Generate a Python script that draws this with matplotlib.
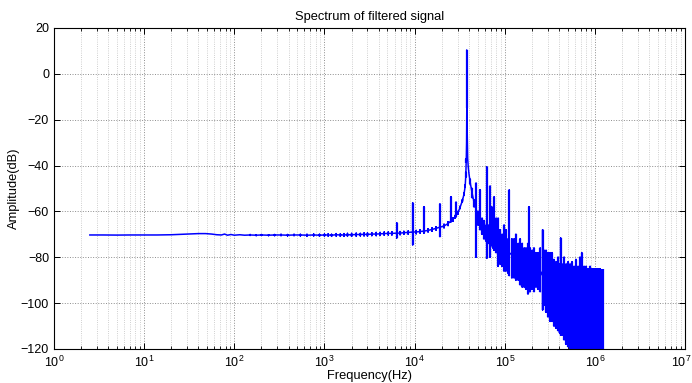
import numpy as np
import matplotlib
matplotlib.use('Agg')
import matplotlib.pyplot as plt
import matplotlib.transforms as mtransforms
from matplotlib.ticker import FixedLocator, LogLocator

plt.rcParams['font.family'] = ['Liberation Sans', 'DejaVu Sans']
plt.rcParams['mathtext.fontset'] = 'custom'
plt.rcParams['mathtext.rm'] = 'Liberation Sans'

# spectrum: for every frequency the main trace level
# and the highest / lowest level drawn there (dense FFT bins merge into a band)
freq = [2.5, 3.5, 5, 7, 10, 14, 20, 26, 32, 40, 48, 56, 64, 72, 78, 84,
        92, 100, 115, 130, 150, 175, 200, 240, 280, 330, 390, 460, 540,
        640, 760, 880, 1000, 1100, 1200, 1350, 1500, 1650, 1800, 2000,
        2250, 2500, 2750, 3000, 3350, 3750, 4150, 4600, 5100, 5600, 6340,
        6900, 7600, 8500, 9530, 10400, 11500, 12700, 14100, 15600, 17300,
        19100, 21200, 23500, 25300, 26700, 28000, 28800, 30300, 31900,
        33900, 35300, 36400, 37000, 37400, 37700, 37900, 38100, 38400,
        38800, 39400, 40200, 41200, 43400, 45600, 48000, 50600, 53200,
        56000, 58900, 62100, 63100, 65300, 68700, 71600, 74000, 76100,
        80200, 84300, 88700, 93300, 98200, 103000, 109000, 112000, 120000,
        127000, 133000, 141000, 148000, 156000, 164000, 172000, 181000,
        186000, 191000, 201000, 211000, 222000, 234000, 247000, 263000,
        273000, 287000, 302000, 318000, 335000, 352000, 371000, 390000,
        405000, 417000, 432000, 455000, 479000, 504000, 530000, 558000,
        587000, 618000, 650000, 684000, 714000, 758000, 798000, 840000,
        884000, 930000, 979000, 1030000, 1084000, 1141000, 1200000, 1240000]

amp_mid = [-70.3, -70.3, -70.35, -70.3, -70.3, -70.3, -70.2, -70.0, -69.8,
           -69.7, -69.7, -69.9, -70.2, -70.3, -69.9, -70.4, -70.1, -70.4,
           -70.2, -70.4, -70.3, -70.4, -70.3, -70.4, -70.3, -70.3, -70.4,
           -70.3, -70.3, -70.4, -70.3, -70.4, -70.3, -70.3, -70.4, -70.2,
           -70.3, -70.3, -70.2, -70.2, -70.1, -70.1, -70.0, -70.1, -69.9,
           -69.9, -69.8, -69.7, -69.6, -69.6, -69.5, -69.5, -69.3, -69.2,
           -69.0, -69.0, -68.8, -68.6, -68.3, -67.9, -67.4, -66.9, -66.4,
           -65.3, -64.2, -63.5, -62.4, -61.8, -60.6, -58.3, -55.3, -52.5,
           -49.0, -44.0, -38.0, -30.0, -15.0, -20.0, -30.0, -37.0, -41.0,
           -44.0, -47.0, -52.0, -56.0, -59.0, -62.0, -64.0, -66.0, -67.0,
           -69.0, -69.0, -70.0, -71.0, -72.0, -72.5, -73.0, -74.0, -75.0,
           -75.5, -76.0, -77.0, -77.5, -78.0, -78.0, -79.0, -79.5, -80.0,
           -80.5, -81.0, -82.0, -82.0, -83.0, -83.0, -83.5, -84.0, -84.0,
           -85.0, -85.0, -86.0, -86.0, -88.0, -88.0, -90.0, -92.0, -94.0,
           -95.0, -96.0, -97.0, -98.0, -98.0, -99.0, -100.0, -100.0, -100.0,
           -100.0, -100.0, -100.0, -100.0, -100.0, -100.0, -100.0, -100.0,
           -100.0, -100.0, -100.0, -100.0, -100.0, -100.0, -100.0, -100.0,
           -100.0]

amp_hi = [-70.3, -70.3, -70.35, -70.3, -70.3, -70.3, -70.2, -70.0, -69.8,
          -69.7, -69.7, -69.9, -70.2, -70.3, -69.9, -70.4, -70.1, -70.4,
          -70.2, -70.4, -70.1, -70.2, -70.1, -70.2, -70.1, -70.0, -70.1,
          -70.0, -70.0, -70.0, -69.9, -70.0, -69.9, -69.8, -70.0, -69.7,
          -69.8, -69.7, -69.6, -69.6, -69.5, -69.6, -69.4, -69.4, -69.3,
          -69.2, -69.2, -69.0, -69.0, -68.9, -65.0, -68.8, -68.7, -68.5,
          -56.3, -68.3, -68.0, -58.0, -67.6, -67.2, -66.7, -56.8, -65.6,
          -64.5, -53.6, -62.8, -61.8, -56.0, -60.0, -57.8, -54.8, -52.0,
          -48.5, -43.0, -37.0, -30.0, 10.3, -20.0, -30.0, -37.0, -41.0,
          -44.0, -46.0, -50.0, -55.0, -47.7, -60.0, -50.6, -63.0, -64.0,
          -66.0, -40.6, -66.0, -49.0, -58.0, -67.0, -53.7, -63.0, -63.0,
          -68.0, -70.0, -66.0, -68.0, -72.0, -50.7, -72.0, -72.0, -70.0,
          -74.0, -72.0, -74.0, -76.0, -76.0, -74.0, -58.0, -76.0, -77.0,
          -76.0, -78.0, -78.0, -76.0, -68.0, -77.0, -77.0, -78.0, -78.0,
          -78.0, -81.0, -82.0, -80.0, -83.0, -71.6, -83.0, -80.0, -83.0,
          -82.0, -83.0, -82.0, -84.0, -81.0, -84.0, -80.0, -78.0, -84.0,
          -84.0, -85.0, -84.0, -85.0, -85.0, -85.0, -85.0, -85.0, -85.0,
          -85.0]

amp_lo = [-70.3, -70.3, -70.35, -70.3, -70.3, -70.3, -70.2, -70.0, -69.8,
          -69.7, -69.7, -69.9, -70.2, -70.3, -69.9, -70.4, -70.1, -70.4,
          -70.2, -70.4, -70.5, -70.6, -70.5, -70.6, -70.6, -70.6, -70.7,
          -70.6, -70.7, -70.8, -70.7, -70.8, -70.8, -70.8, -70.9, -70.8,
          -70.9, -70.9, -70.8, -70.9, -70.8, -70.7, -70.7, -70.8, -70.6,
          -70.6, -70.5, -70.4, -70.3, -70.3, -71.6, -70.2, -70.0, -70.0,
          -74.6, -69.8, -69.5, -69.5, -69.0, -68.7, -68.2, -71.0, -67.2,
          -66.2, -64.6, -64.3, -63.0, -62.4, -61.2, -58.8, -55.8, -53.0,
          -49.5, -45.0, -39.0, -30.0, -15.0, -20.0, -30.0, -37.0, -41.0,
          -44.0, -48.0, -54.0, -58.0, -80.0, -66.0, -68.0, -70.0, -72.0,
          -73.0, -80.5, -74.0, -80.0, -75.0, -76.0, -77.0, -78.0, -84.0,
          -83.0, -84.0, -86.0, -86.0, -87.0, -88.0, -89.0, -89.0, -90.0,
          -90.0, -92.0, -93.0, -93.0, -94.0, -96.0, -95.0, -95.0, -94.0,
          -95.0, -93.0, -94.0, -95.0, -103.0, -101.0, -104.0, -106.0,
          -108.0, -108.0, -110.0, -111.0, -112.0, -113.0, -114.0, -114.0,
          -116.0, -118.0, -119.0, -121.0, -124.0, -125.0, -125.0, -125.0,
          -125.0, -125.0, -125.0, -125.0, -125.0, -125.0, -125.0, -125.0,
          -125.0, -125.0, -125.0, -125.0, -125.0]

# trace: follow the main level and run up and down at every frequency
xs, ys = [], []
for f, m, h, l in zip(freq, amp_mid, amp_hi, amp_lo):
    xs += [f, f, f, f]
    ys += [m, h, l, m]

# spikes and the dense band get a slightly wider stroke so they fill in
wide = [i for i in range(len(freq)) if amp_hi[i] - amp_lo[i] >= 2]

fig = plt.figure(figsize=(6.92, 3.83), dpi=100)
ax = fig.add_axes([0.078, 0.089, 0.912, 0.838])

ax.vlines([freq[i] for i in wide], [amp_lo[i] for i in wide],
          [amp_hi[i] for i in wide], color='#0000ff', linewidth=1.6)
ax.plot(xs, ys, color='#0000ff', linewidth=1.1)

ax.set_xscale('log')
ax.set_xlim(1, 1e7)
ax.set_ylim(-120, 20)
ax.xaxis.set_major_locator(FixedLocator(10.0 ** np.arange(0, 8)))
ax.xaxis.set_minor_locator(LogLocator(base=10, subs=np.arange(2, 10), numticks=100))
ax.yaxis.set_major_locator(FixedLocator(np.arange(-120, 21, 20)))

ax.grid(True, which='major', color='#8c8c8c', linestyle=':', linewidth=0.7)
ax.grid(True, which='minor', axis='x', color='#c0c0c0', linestyle=':', linewidth=0.6)
ax.set_axisbelow(True)

ax.tick_params(which='both', direction='in', top=True, right=True,
               labelsize=9, colors='black')
ax.tick_params(which='major', length=4, width=0.7)
ax.tick_params(which='minor', length=2, width=0.6)
ax.tick_params(axis='x', which='major', pad=4)
for s in ax.spines.values():
    s.set_linewidth(0.8)

ax.set_title('Spectrum of filtered signal', fontsize=9.3, pad=6)
ax.set_xlabel('Frequency(Hz)', fontsize=9.3, labelpad=0)
ax.set_ylabel('Amplitude(dB)', fontsize=9.3, labelpad=1)

# keep the last decade label inside the picture
fig.canvas.draw()
last = ax.get_xticklabels()[-1]
last.set_transform(last.get_transform() +
                   mtransforms.ScaledTranslation(-4 / 100, 0, fig.dpi_scale_trans))

fig.savefig('out.png', dpi=100)
